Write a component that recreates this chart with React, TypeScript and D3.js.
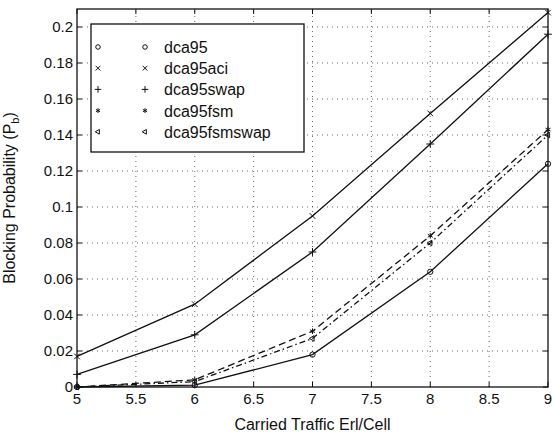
import * as d3 from "d3";

// traffic load (Erl/cell) and blocking probability per scheme
const load = [5, 6, 7, 8, 9];
const dca95 = [0, 0.001, 0.018, 0.064, 0.124];
const dca95aci = [0.017, 0.046, 0.095, 0.152, 0.208];
const dca95swap = [0.007, 0.029, 0.075, 0.135, 0.196];
const dca95fsm = [0, 0.004, 0.031, 0.084, 0.143];
const dca95fsmswap = [0, 0.003, 0.027, 0.08, 0.14];

const xTicks = [5, 5.5, 6, 6.5, 7, 7.5, 8, 8.5, 9];
const yTicks = [0, 0.02, 0.04, 0.06, 0.08, 0.1, 0.12, 0.14, 0.16, 0.18, 0.2];

const series = [
  { name: "dca95", values: dca95, marker: "o", dash: null },
  { name: "dca95aci", values: dca95aci, marker: "x", dash: null },
  { name: "dca95swap", values: dca95swap, marker: "+", dash: null },
  { name: "dca95fsm", values: dca95fsm, marker: "*", dash: "7,4" },
  { name: "dca95fsmswap", values: dca95fsmswap, marker: "<", dash: "6,3,1.5,3" },
];

const W = 554;
const H = 435;
const margin = { top: 9, right: 6, bottom: 48, left: 77 };
const font = "'Liberation Sans', Arial, sans-serif";

function markerPath(m: string, size: number) {
  const types: Record<string, any> = {
    o: d3.symbolCircle,
    x: d3.symbolTimes,
    "+": d3.symbolPlus,
    "*": d3.symbolAsterisk,
    "<": d3.symbolTriangle2,
  };
  return d3.symbol(types[m], size)() || "";
}

export default function App() {
  const x = d3.scaleLinear().domain([5, 9]).range([margin.left, W - margin.right]);
  const y = d3.scaleLinear().domain([0, 0.21]).range([H - margin.bottom, margin.top]);
  const [x0, x1] = x.range();
  const [y0, y1] = y.range();

  const line = d3
    .line<number>()
    .x((_, i) => x(load[i]))
    .y((d) => y(d));

  const legend = { x: 91, y: 24, w: 213, h: 128, row: 21.2 };

  return (
    <svg
      width={W}
      height={H}
      style={{ position: "absolute", left: 0, top: 0, background: "#fff" }}
      fontFamily={font}
    >
      {/* dotted grid */}
      <g stroke="#444" strokeWidth={0.8} strokeDasharray="1,4">
        {xTicks.slice(1, -1).map((t) => (
          <line key={"gx" + t} x1={x(t)} x2={x(t)} y1={y0} y2={y1} />
        ))}
        {yTicks.slice(1).map((t) => (
          <line key={"gy" + t} x1={x0} x2={x1} y1={y(t)} y2={y(t)} />
        ))}
      </g>

      {/* curves */}
      {series.map((s) => (
        <g key={s.name}>
          <path
            d={line(s.values) || ""}
            fill="none"
            stroke="#111"
            strokeWidth={1.3}
            strokeDasharray={s.dash || undefined}
          />
          {s.values.map((v, i) => (
            <path
              key={i}
              d={markerPath(s.marker, 22)}
              transform={`translate(${x(load[i])},${y(v)}) rotate(${s.marker === "<" ? -90 : 0})`}
              fill="none"
              stroke="#111"
              strokeWidth={1}
            />
          ))}
        </g>
      ))}

      {/* frame and inward ticks */}
      <rect x={x0} y={y1} width={x1 - x0} height={y0 - y1} fill="none" stroke="#111" strokeWidth={1.3} />
      <g stroke="#111" strokeWidth={1}>
        {xTicks.map((t) => (
          <g key={"tx" + t}>
            <line x1={x(t)} x2={x(t)} y1={y0} y2={y0 - 5} />
            <line x1={x(t)} x2={x(t)} y1={y1} y2={y1 + 5} />
          </g>
        ))}
        {yTicks.map((t) => (
          <g key={"ty" + t}>
            <line x1={x0} x2={x0 + 5} y1={y(t)} y2={y(t)} />
            <line x1={x1} x2={x1 - 5} y1={y(t)} y2={y(t)} />
          </g>
        ))}
      </g>

      {/* tick labels */}
      <g fontSize={15} fill="#111">
        {xTicks.map((t) => (
          <text key={"lx" + t} x={x(t)} y={y0 + 17} textAnchor="middle">
            {t}
          </text>
        ))}
        {yTicks.map((t) => (
          <text key={"ly" + t} x={x0 - 4} y={y(t) + 5} textAnchor="end">
            {t}
          </text>
        ))}
      </g>

      {/* axis titles */}
      <text x={(x0 + x1) / 2} y={H - 5} textAnchor="middle" fontSize={16} fill="#111">
        Carried Traffic Erl/Cell
      </text>
      <text
        transform={`translate(15,${(y0 + y1) / 2}) rotate(-90)`}
        textAnchor="middle"
        fontSize={16}
        fill="#111"
      >
        Blocking Probability (P
        <tspan fontSize={11} dy={4}>b</tspan>
        <tspan dy={-4}>)</tspan>
      </text>

      {/* legend */}
      <g>
        <rect x={legend.x} y={legend.y} width={legend.w} height={legend.h} fill="#fff" stroke="#111" strokeWidth={1.3} />
        {series.map((s, i) => {
          const cy = legend.y + 23 + i * legend.row;
          return (
            <g key={"lg" + s.name}>
              {[98, 145].map((mx) => (
                <path
                  key={mx}
                  d={markerPath(s.marker, 16)}
                  transform={`translate(${mx},${cy}) rotate(${s.marker === "<" ? -90 : 0})`}
                  fill="none"
                  stroke="#111"
                  strokeWidth={1}
                />
              ))}
              <text x={164} y={cy + 6} fontSize={16} fill="#111">
                {s.name}
              </text>
            </g>
          );
        })}
      </g>
    </svg>
  );
}
